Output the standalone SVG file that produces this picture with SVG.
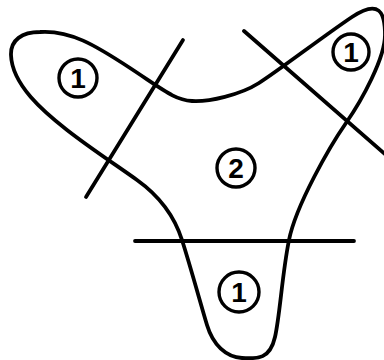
<svg xmlns="http://www.w3.org/2000/svg" width="384" height="360" viewBox="0 0 384 360">
<style>
.ln{fill:none;stroke:#000;stroke-width:3.8;stroke-linecap:round;stroke-linejoin:round}
.lb circle{fill:none;stroke:#000;stroke-width:3.4}
.lb text{font-family:"Liberation Sans",Arial,sans-serif;font-weight:bold;font-size:28px;text-anchor:middle;fill:#000}
</style>
<rect width="384" height="360" fill="#fff"/>
<g id="outline">
<path class="ln" d="M40,32 C70,30 95,45 130,68 S175,100 192,101 S240,95 259,83 S325,35 352,17 S385,12 385,35 S362,100 346,123 S296,205 289,240 S280,315 275,337 S258,359 242,358 S213,345 207,325 S190,265 182,240 S158,195 137,180 S90,148 67,130 S12,85 11,55 C10.5,40 22,32 40,32 Z"/>
</g>
<g id="connectors">
<line class="ln" x1="183" y1="40" x2="86" y2="197"/>
<line class="ln" x1="244" y1="31" x2="386" y2="155"/>
<line class="ln" x1="135" y1="241" x2="354" y2="241"/>
</g>
<g id="region-left" class="lb"><circle cx="78" cy="78" r="19"/><text x="78" y="88">1</text></g>
<g id="region-right" class="lb"><circle cx="351" cy="52" r="18"/><text x="351" y="62">1</text></g>
<g id="region-center" class="lb"><circle cx="236" cy="168" r="19"/><text x="236" y="178">2</text></g>
<g id="region-bottom" class="lb"><circle cx="239" cy="292" r="20"/><text x="239" y="302">1</text></g>
</svg>
